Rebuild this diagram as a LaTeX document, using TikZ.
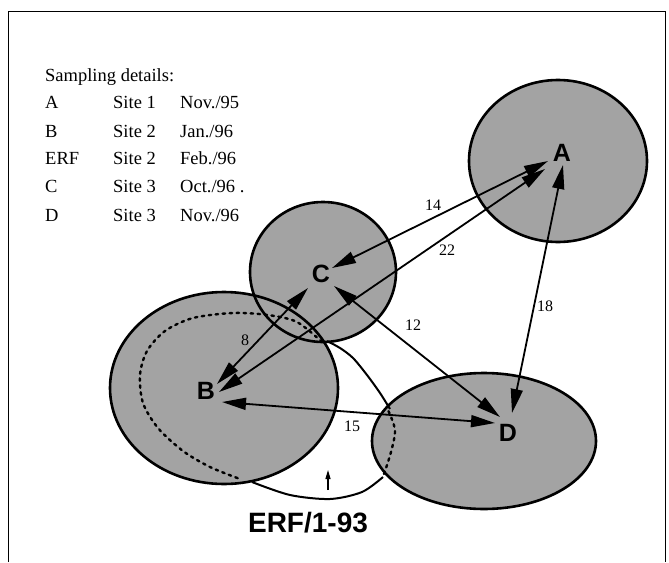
\documentclass[tikz,border=0pt]{standalone}
\usepackage{fontspec}
\setmainfont{Liberation Serif}
\newfontfamily\labelsans{Liberation Sans}
\usetikzlibrary{arrows.meta}
\definecolor{halftone}{gray}{0.64}
\tikzset{
  region/.style={line width=2.6pt},
  link/.style={line width=1.8pt,
    {Triangle[length=24pt,width=12pt]}-{Triangle[length=24pt,width=12pt]}},
  sitelabel/.style={font=\labelsans\bfseries\fontsize{25}{25}\selectfont, inner sep=0pt},
  dist/.style={font=\fontsize{16}{16}\selectfont, inner sep=0pt},
  legend/.style={font=\fontsize{18.5}{20}\selectfont, inner sep=0pt, anchor=base west},
  erfdots/.style={line width=2.4pt, dash pattern=on 2.5pt off 4.5pt, line cap=round},
  erfsolid/.style={line width=2pt},
}
\begin{document}
\begin{tikzpicture}[x=1pt,y=-1pt]
\useasboundingbox (0,0) rectangle (669,562);
% frame
\draw[line width=1pt] (8,562) -- (8,11) -- (665,11) -- (665,562);

% legend
\node[legend] (ttl) at (45,81) {Sampling details:};
\node[legend] (l1a) at (45,108) {A};   \node[legend] (l1b) at (113,108) {Site 1}; \node[legend] (l1c) at (180,108) {Nov./95};
\node[legend] (l2a) at (45,137) {B};   \node[legend] (l2b) at (113,137) {Site 2}; \node[legend] (l2c) at (180,137) {Jan./96};
\node[legend] (l3a) at (45,164) {ERF}; \node[legend] (l3b) at (113,164) {Site 2}; \node[legend] (l3c) at (180,164) {Feb./96};
\node[legend] (l4a) at (45,192) {C};   \node[legend] (l4b) at (113,192) {Site 3}; \node[legend] (l4c) at (180,192) {Oct./96 .};
\node[legend] (l5a) at (45,221) {D};   \node[legend] (l5b) at (113,221) {Site 3}; \node[legend] (l5c) at (180,221) {Nov./96};

% sampling regions: fills first, outlines on top
\fill[halftone] (558,161) ellipse [x radius=89, y radius=81];
\fill[halftone] (224,388) ellipse [x radius=114, y radius=96];
\fill[halftone] (323,272) ellipse [x radius=73, y radius=70];
\fill[halftone] (484,441) ellipse [x radius=112, y radius=68];
\draw[region] (558,161) ellipse [x radius=89, y radius=81];
\draw[region] (224,388) ellipse [x radius=114, y radius=96];
\draw[region] (323,272) ellipse [x radius=73, y radius=70];
\draw[region] (484,441) ellipse [x radius=112, y radius=68];

% ERF/1-93 area
\draw[erfdots] plot[smooth] coordinates {(322,342) (297,322) (268,315) (233,313) (193,318) (165,331) (147,351) (140,375) (143,403) (158,428) (183,451) (210,467) (240,479)};
\draw[erfsolid] plot[smooth] coordinates {(252,482) (290,495) (330,499) (362,492) (383,477)};
\draw[erfdots] plot[smooth] coordinates {(384,474) (391,452) (395,430) (388,410)};
\draw[erfsolid] plot[smooth] coordinates {(327,341) (340,348) (353,358) (367,375) (380,393) (390,409)};

% connector end points
\coordinate (a14) at (548,161); \coordinate (c14) at (332,268);
\coordinate (a22) at (545,169); \coordinate (b22) at (219,392);
\coordinate (b8)  at (217,384); \coordinate (c8)  at (308,288);
\coordinate (c12) at (334,286); \coordinate (d12) at (500,417);
\coordinate (a18) at (563,165); \coordinate (d18) at (512,413);
\coordinate (b15) at (222,402); \coordinate (d15) at (495,423);
\coordinate (erftail) at (328,490); \coordinate (erftip) at (328,470);

\draw[link] (c14) -- (a14);
\draw[link] (b22) -- (a22);
\draw[link] (b8) -- (c8);
\draw[link] (c12) -- (d12);
\draw[link] (a18) -- (d18);
\draw[link] (b15) -- (d15);
\draw[line width=1.2pt, -{Triangle[length=9pt,width=5pt]}] (erftail) -- (erftip);

% distances
\node[dist] (n14) at (433,205) {14};
\node[dist] (n22) at (447,250) {22};
\node[dist] (n8)  at (245,340) {8};
\node[dist] (n12) at (413,325) {12};
\node[dist] (n18) at (545,306) {18};
\node[dist] (n15) at (352,426) {15};

% site labels
\node[sitelabel] (A) at (562,153) {A};
\node[sitelabel] (B) at (206,391) {B};
\node[sitelabel] (C) at (321,274) {C};
\node[sitelabel] (D) at (508,433) {D};
\node[font=\labelsans\bfseries\fontsize{28}{28}\selectfont, inner sep=0pt, anchor=base] (erf) at (308,532) {ERF/1-93};
\end{tikzpicture}
\end{document}
